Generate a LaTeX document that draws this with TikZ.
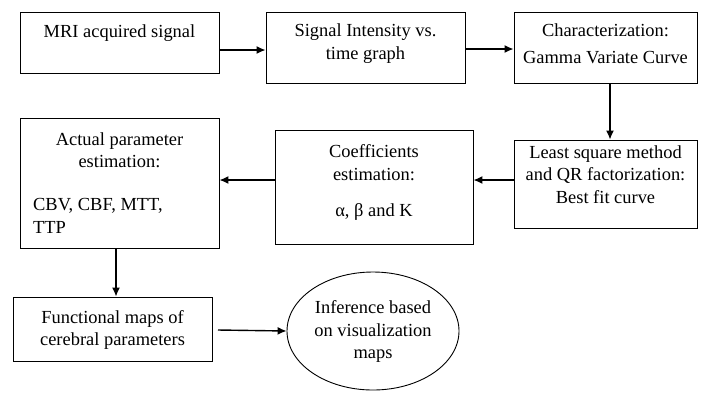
\documentclass[tikz,border=0pt]{standalone}
\usepackage{fontspec}
\setmainfont{Liberation Serif}
\newfontfamily\tnrfont{Liberation Serif}
\usetikzlibrary{arrows.meta,shapes.geometric}
\tikzset{
  box/.style={draw=black,line width=0.9bp,rectangle,inner sep=0pt},
  txt/.style={inner sep=0pt,align=center,font=\tnrfont\fontsize{18.5}{22.5}\selectfont},
  arr/.style={line width=1.4bp,-{Latex[length=9bp,width=8bp]}}
}
\begin{document}
\begin{tikzpicture}[x=1bp,y=-1bp]
\useasboundingbox (0,0) rectangle (716,393);
% boxes
\node[box,minimum width=199bp,minimum height=61bp] (b1) at (119.5,42.5) {};
\node[box,minimum width=199bp,minimum height=71bp] (b2) at (365.5,47.5) {};
\node[box,minimum width=183bp,minimum height=71bp] (b3) at (605.5,47.5) {};
\node[box,minimum width=183bp,minimum height=88bp] (b4) at (605.5,184) {};
\node[box,minimum width=198bp,minimum height=114bp] (b5) at (374,187) {};
\node[box,minimum width=199bp,minimum height=130bp] (b6) at (119.5,183) {};
\node[box,minimum width=199bp,minimum height=64bp] (b7) at (112.5,329) {};
\node[draw=black,line width=0.9bp,ellipse,inner sep=0pt,minimum width=172bp,minimum height=118bp] (e8) at (373,331) {};
% texts
\node[txt] (t1) at (119.5,33) {MRI acquired signal};
\node[txt] (t2) at (365.5,43.5) {Signal Intensity vs.\\time graph};
\node[txt] (t3a) at (605.5,30) {Characterization:};
\node[txt] (t3b) at (605.5,58) {Gamma Variate Curve};
\node[txt] (t4) at (605.5,174.5) {Least square method\\and QR factorization:\\Best fit curve};
\node[txt] (t5a) at (374,162.5) {Coefficients\\estimation:};
\node[txt] (t5b) at (374,212) {α, β and K};
\node[txt] (t6a) at (119.5,150.5) {Actual parameter\\estimation:};
\node[txt,align=left,anchor=west] (t6b) at (33,216) {CBV, CBF, MTT,\\TTP};
\node[txt] (t7) at (112.5,330) {Functional maps of\\cerebral parameters};
\node[txt] (t8) at (373,331.5) {Inference based\\on visualization\\maps};
% connectors
\draw[arr] (b1.east |- 0,50) -- (b2.west |- 0,50);
\draw[arr] (b2.east |- 0,49) -- (b3.west |- 0,49);
\draw[arr] (b3.south -| 610,0) -- (b4.north -| 610,0);
\draw[arr] (b4.west |- 0,180) -- (b5.east |- 0,180);
\draw[arr] (b5.west |- 0,180) -- (b6.east |- 0,180);
\draw[arr] (b6.south -| 116,0) -- (b7.north -| 116,0);
\draw[arr] (218,330) -- (e8.west);
\end{tikzpicture}
\end{document}
